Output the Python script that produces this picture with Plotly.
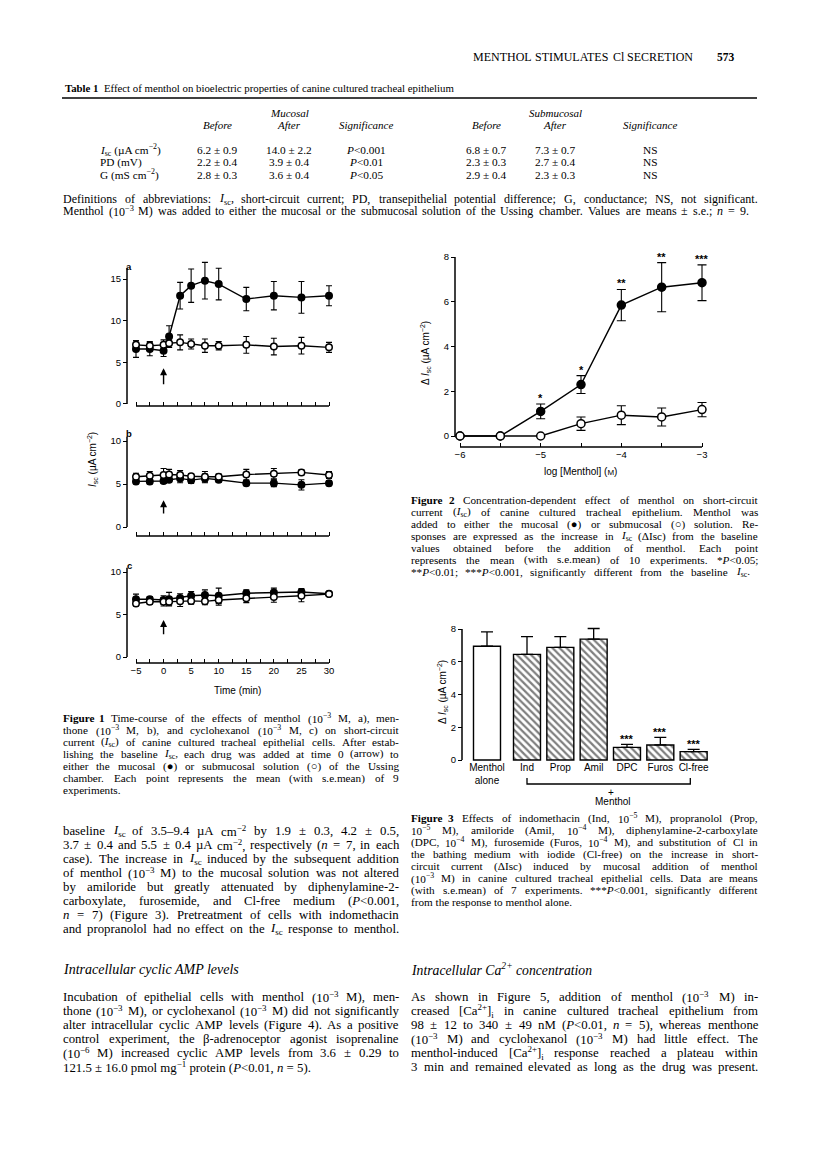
import re
import plotly.graph_objects as go

W, H = 816, 1166
SERIF = "Liberation Serif"
SANS = "Liberation Sans"


def fx(px):
    return px / W


def fy(py):
    return 1 - py / H


# ---------------- data ----------------
# Figure 1: time course of Isc (uA cm-2), mucosal (filled) vs submucosal (open)
time_min = [-5, -2.5, 0, 1, 3, 5, 7.5, 10, 15, 20, 25, 30]

menthol_muc = [6.6, 6.6, 6.4, 8.1, 13.0, 14.2, 14.8, 14.4, 12.6, 13.0, 12.8, 13.0]
menthol_muc_se = [1.0, 0.8, 0.7, 1.3, 1.6, 2.0, 2.2, 1.9, 1.4, 1.7, 1.9, 1.2]
menthol_sub = [7.1, 7.0, 7.1, 7.3, 7.4, 7.2, 7.0, 7.0, 7.1, 6.9, 7.0, 6.8]
menthol_sub_se = [0.5, 0.5, 0.6, 0.5, 0.9, 0.6, 0.8, 0.5, 1.0, 1.0, 1.0, 0.6]

menthone_muc = [5.3, 5.3, 5.35, 5.5, 5.65, 5.45, 5.65, 5.5, 5.1, 5.1, 4.9, 5.1]
menthone_muc_se = [0.3, 0.3, 0.3, 0.3, 0.5, 0.4, 0.5, 0.3, 0.3, 0.4, 0.6, 0.3]
menthone_sub = [5.85, 5.95, 6.05, 6.1, 6.05, 5.9, 5.85, 5.85, 6.1, 6.2, 6.35, 6.05]
menthone_sub_se = [0.4, 0.5, 0.75, 0.6, 0.5, 0.3, 0.6, 0.3, 0.6, 0.6, 0.3, 0.4]

cyclo_muc = [6.8, 6.8, 6.7, 6.8, 6.95, 7.2, 7.3, 7.2, 7.5, 7.6, 7.65, 7.45]
cyclo_muc_se = [0.6, 0.3, 0.5, 0.8, 0.5, 0.5, 0.6, 0.9, 0.4, 0.5, 0.4, 0.2]
cyclo_sub = [6.3, 6.5, 6.5, 6.5, 6.55, 6.6, 6.55, 6.7, 6.9, 7.05, 7.2, 7.4]
cyclo_sub_se = [0.3, 0.3, 0.5, 0.4, 0.6, 0.4, 0.4, 0.6, 0.5, 0.6, 0.7, 0.2]

# Figure 2: concentration-response, delta Isc
log_menthol = [-6, -5.5, -5, -4.5, -4, -3.5, -3]
conc_muc = [0, 0, 1.1, 2.3, 5.85, 6.65, 6.85]
conc_muc_se = [0, 0, 0.33, 0.4, 0.7, 1.1, 0.8]
conc_sub = [0, 0, 0, 0.55, 0.93, 0.85, 1.18]
conc_sub_se = [0, 0, 0, 0.3, 0.42, 0.4, 0.32]
conc_stars = ["", "", "*", "*", "**", "**", "***"]

# Figure 3: inhibitors, delta Isc
bar_labels = ["Menthol<br>alone", "Ind", "Prop", "Amil", "DPC", "Furos", "Cl-free"]
bar_vals = [6.95, 6.45, 6.88, 7.38, 0.77, 0.92, 0.51]
bar_se = [0.88, 1.08, 0.65, 0.65, 0.19, 0.46, 0.14]
bar_stars = ["", "", "", "", "***", "***", "***"]

# Table 1
table_rows = ["<i>I</i><sub>sc</sub> (µA cm<sup>−2</sup>)", "PD (mV)", "G (mS cm<sup>−2</sup>)"]
muc_before = ["6.2 ± 0.9", "2.2 ± 0.4", "2.8 ± 0.3"]
muc_after = ["14.0 ± 2.2", "3.9 ± 0.4", "3.6 ± 0.4"]
muc_sig = ["<i>P</i>&lt;0.001", "<i>P</i>&lt;0.01", "<i>P</i>&lt;0.05"]
sub_before = ["6.8 ± 0.7", "2.3 ± 0.3", "2.9 ± 0.4"]
sub_after = ["7.3 ± 0.7", "2.7 ± 0.4", "2.3 ± 0.3"]
sub_sig = ["NS", "NS", "NS"]

fig = go.Figure()
shapes = []
ann = []

# Times advance widths (1/1000 em), Liberation Serif is metric compatible
TW = {" ": 250, "!": 333, "%": 833, "(": 333, ")": 333, "*": 500, "+": 564, ",": 250, "-": 333,
      ".": 250, "/": 278, ":": 278, ";": 278, "<": 564, "=": 564, ">": 564, "[": 333, "]": 333,
      "±": 564, "µ": 500, "β": 500, "Δ": 612, "–": 500, "−": 564, "●": 640, "○": 640}
TW.update({d: 500 for d in "0123456789"})
TW.update(dict(zip("ABCDEFGHIJKLMNOPQRSTUVWXYZ",
                   [722, 667, 667, 722, 611, 556, 722, 722, 333, 389, 722, 611, 889, 722, 722, 556,
                    722, 667, 556, 611, 722, 722, 944, 722, 722, 611])))
TW.update(dict(zip("abcdefghijklmnopqrstuvwxyz",
                   [444, 500, 444, 500, 444, 333, 500, 500, 278, 278, 500, 278, 778, 500, 500, 500,
                    500, 333, 389, 278, 500, 500, 722, 500, 500, 444])))


def text_width(s, size):
    w, scale = 0.0, 1.0
    for tok in re.findall(r"<[^>]+>|&[a-z]+;|.", s):
        if tok.startswith("<"):
            if tok in ("<sup>", "<sub>"):
                scale = 0.7
            elif tok in ("</sup>", "</sub>"):
                scale = 1.0
            continue
        ch = {"&lt;": "<", "&gt;": ">", "&amp;": "&"}.get(tok, tok)
        w += TW.get(ch, 500) * scale
    return w * size / 1000.0


def text(px, py, s, size=11, family=SERIF, xanchor="left", angle=0):
    ann.append(dict(x=fx(px), y=fy(py), xref="paper", yref="paper", text=s,
                    showarrow=False, xanchor=xanchor, yanchor="middle", borderpad=0,
                    textangle=angle, font=dict(family=family, size=size, color="black")))


def para(lines, x0, x1, y0, dy, size, last_end=None):
    # justified block: every line spread to x1, last line to last_end (or natural)
    for k, line in enumerate(lines):
        py = y0 + dy * k
        target = last_end if k == len(lines) - 1 else x1
        words = line.split(" ")
        if target is None or len(words) < 2:
            text(x0, py, line, size)
            continue
        ws = [text_width(w, size) for w in words]
        gap = (target - x0 - sum(ws)) / (len(words) - 1)
        if gap < 0.15 * size:
            text(x0, py, line, size)
            continue
        xc = x0
        for w, wd in zip(words, ws):
            text(xc, py, w, size)
            xc += wd + gap


def series(xs, ys, es, xa, ya, filled, msize, cap):
    fig.add_trace(go.Scatter(
        x=xs, y=ys, xaxis=xa, yaxis=ya, mode="lines+markers", cliponaxis=False,
        line=dict(color="black", width=1.4),
        marker=dict(size=msize, color="black" if filled else "white",
                    line=dict(color="black", width=1.5)),
        error_y=dict(type="data", array=es, color="black", thickness=1.1, width=cap),
        showlegend=False, hoverinfo="skip"))


# ---------------- Figure 1 ----------------
x_ppu = 193 / 35.0          # px per minute
x_left, x_right = 118, 340
panels = [
    dict(lab="a", muc=menthol_muc, muc_se=menthol_muc_se, sub=menthol_sub, sub_se=menthol_sub_se,
         y0=404, ppu=8.33, top=16.3, xline=406, yt=[0, 5, 10, 15], arrow=(4.3, 2.2), labpy=267),
    dict(lab="b", muc=menthone_muc, muc_se=menthone_muc_se, sub=menthone_sub, sub_se=menthone_sub_se,
         y0=527, ppu=8.6, top=10.5, xline=536, yt=[0, 5, 10], arrow=(3.1, 1.4), labpy=433),
    dict(lab="c", muc=cyclo_muc, muc_se=cyclo_muc_se, sub=cyclo_sub, sub_se=cyclo_sub_se,
         y0=657, ppu=8.5, top=10.5, xline=663, yt=[0, 5, 10], arrow=(4.35, 2.5), labpy=565),
]
tick_t = [-5 + 2.5 * k for k in range(15)]
lay = {}
for i, p in enumerate(panels):
    n = i + 1
    xs = "" if n == 1 else str(n)
    xa, ya = "x" + xs, "y" + xs
    series(time_min, p["muc"], p["muc_se"], xa, ya, True, 6.5, 3)
    series(time_min, p["sub"], p["sub_se"], xa, ya, False, 6.5, 3)
    bot_px = p["y0"] + 10
    top_px = p["y0"] - (p["top"] + 2.5) * p["ppu"]
    lay["xaxis" + xs] = dict(
        domain=[fx(x_left), fx(x_right)],
        range=[-5 - (136 - x_left) / x_ppu, 30 + (x_right - 329) / x_ppu],
        anchor="free", position=fy(p["xline"]), showgrid=False, zeroline=False, showline=False,
        tickvals=tick_t, ticktext=[("−" + str(-int(t)) if t < 0 else str(int(t))) if t % 5 == 0 else "" for t in tick_t],
        showticklabels=(n == 3), ticks="inside", ticklen=4, tickwidth=1.2, tickcolor="black",
        tickfont=dict(family=SANS, size=9.5, color="black"))
    lay["yaxis" + xs] = dict(
        domain=[fy(bot_px), fy(top_px)],
        range=[-10 / p["ppu"], p["top"] + 2.5],
        anchor="free", position=fx(127), showgrid=False, zeroline=False, showline=False,
        tickvals=p["yt"], ticks="outside", ticklen=4, tickwidth=1.2, tickcolor="black",
        tickfont=dict(family=SANS, size=9.5, color="black"))
    shapes.append(dict(type="line", xref="paper", yref=ya, x0=fx(127), x1=fx(127), y0=0, y1=p["top"],
                       line=dict(color="black", width=1.5)))
    shapes.append(dict(type="line", xref=xa, yref="paper", x0=-5, x1=30, y0=fy(p["xline"]), y1=fy(p["xline"]),
                       line=dict(color="black", width=1.5)))
    ann.append(dict(x=0, y=p["arrow"][0], ax=0, ay=p["arrow"][1], xref=xa, yref=ya, axref=xa, ayref=ya,
                    showarrow=True, arrowhead=2, arrowsize=1, arrowwidth=1.4, arrowcolor="black", text=""))
    text(129, p["labpy"], "<b>" + p["lab"] + "</b>", size=9.5, family=SANS, xanchor="center")

text(92, 460, "<i>I</i><sub>sc</sub> (µA cm<sup>−2</sup>)", size=10, family=SANS, xanchor="center", angle=-90)
text(237, 691, "Time (min)", size=10, family=SANS, xanchor="center")

# ---------------- Figure 2 ----------------
series(log_menthol, conc_muc, conc_muc_se, "x4", "y4", True, 8, 4.5)
series(log_menthol, conc_sub, conc_sub_se, "x4", "y4", False, 8, 4.5)
f2_xppu, f2_yppu = 80.67, 22.375
lay["xaxis4"] = dict(
    domain=[fx(440), fx(725)], range=[-6 - 20 / f2_xppu, -3 + 23 / f2_xppu],
    anchor="free", position=fy(447), showgrid=False, zeroline=False, showline=False,
    tickvals=log_menthol, ticktext=["−6", "", "−5", "", "−4", "", "−3"],
    ticks="inside", ticklen=4, tickwidth=1.2, tickcolor="black",
    tickfont=dict(family=SANS, size=9.5, color="black"))
lay["yaxis4"] = dict(
    domain=[fy(450), fy(235)], range=[-14 / f2_yppu, (436 - 235) / f2_yppu],
    anchor="free", position=fx(455), showgrid=False, zeroline=False, showline=False,
    tickvals=[0, 2, 4, 6, 8], ticks="outside", ticklen=4, tickwidth=1.2, tickcolor="black",
    tickfont=dict(family=SANS, size=9.5, color="black"))
shapes.append(dict(type="line", xref="paper", yref="y4", x0=fx(455), x1=fx(455), y0=0, y1=8,
                   line=dict(color="black", width=1.5)))
shapes.append(dict(type="line", xref="x4", yref="paper", x0=-6, x1=-3, y0=fy(447), y1=fy(447),
                   line=dict(color="black", width=1.5)))
for xv, yv, ev, st in zip(log_menthol, conc_muc, conc_muc_se, conc_stars):
    if st:
        ann.append(dict(x=xv, y=yv + ev, xref="x4", yref="y4", text="<b>" + st + "</b>", showarrow=False,
                        yanchor="bottom", yshift=-2, font=dict(family=SANS, size=11, color="black")))
text(425, 353, "Δ <i>I</i><sub>sc</sub> (µA cm<sup>−2</sup>)", size=10, family=SANS, xanchor="center", angle=-90)
text(580, 471, "log [Menthol] (<span style='font-size:8px'>M</span>)", size=10, family=SANS, xanchor="center")

# ---------------- Figure 3 ----------------
bar_x = [i + (0.2 if i > 0 else 0) for i in range(len(bar_vals))]
fig.add_trace(go.Bar(
    x=bar_x, y=bar_vals, xaxis="x5", yaxis="y5", width=0.81,
    marker=dict(color="white", line=dict(color="black", width=1.4),
                pattern=dict(shape=[""] + ["\\"] * (len(bar_vals) - 1), fgcolor="black",
                             bgcolor="white", size=5, solidity=0.45)),
    error_y=dict(type="data", symmetric=False, array=bar_se, arrayminus=[0] * len(bar_se),
                 color="black", thickness=1.3, width=6),
    showlegend=False, hoverinfo="skip"))
f3_xppu, f3_yppu = 33.33, 16.375
lay["xaxis5"] = dict(
    domain=[fx(455), fx(720)], range=[-(487 - 455) / f3_xppu, (720 - 487) / f3_xppu],
    anchor="free", position=fy(760), showgrid=False, zeroline=False, showline=False,
    tickvals=bar_x, ticktext=bar_labels, ticks="",
    tickfont=dict(family=SANS, size=10, color="black"))
lay["yaxis5"] = dict(
    domain=[fy(770), fy(600)], range=[-10 / f3_yppu, (760 - 600) / f3_yppu],
    anchor="free", position=fx(462), showgrid=False, zeroline=False, showline=False,
    tickvals=[0, 2, 4, 6, 8], ticks="outside", ticklen=4, tickwidth=1.2, tickcolor="black",
    tickfont=dict(family=SANS, size=9.5, color="black"))
shapes.append(dict(type="line", xref="paper", yref="y5", x0=fx(462), x1=fx(462), y0=0, y1=8,
                   line=dict(color="black", width=1.5)))
for xv, yv, ev, st in zip(bar_x, bar_vals, bar_se, bar_stars):
    if st:
        ann.append(dict(x=xv, y=yv + ev, xref="x5", yref="y5", text="<b>" + st + "</b>", showarrow=False,
                        yanchor="bottom", yshift=-3, font=dict(family=SANS, size=11, color="black")))
shapes.append(dict(type="path", xref="x5", yref="paper",
                   path="M %g,%g L %g,%g L %g,%g L %g,%g" % (bar_x[1], fy(778), bar_x[1], fy(784),
                                                              bar_x[-1] - 0.1, fy(784), bar_x[-1] - 0.1, fy(778)),
                   line=dict(color="black", width=1.3)))
text(442, 692, "Δ <i>I</i><sub>sc</sub> (µA cm<sup>−2</sup>)", size=10, family=SANS, xanchor="center", angle=-90)
text(611, 792, "+", size=10, family=SANS, xanchor="center")
text(613, 801, "Menthol", size=10, family=SANS, xanchor="center")

# ---------------- page text ----------------
para(["MENTHOL STIMULATES Cl SECRETION"], 472, 692, 57, 12, 12, last_end=692)
text(716, 57, "<b>573</b>", size=11.5)

text(64, 88, "<b>Table 1</b>  Effect of menthol on bioelectric properties of canine cultured tracheal epithelium", size=10.8)
shapes.append(dict(type="line", xref="paper", yref="paper", x0=fx(62), x1=fx(757), y0=fy(98), y1=fy(98),
                   line=dict(color="black", width=1.6)))
col_x = [217, 289, 366, 486, 555, 650]
text(col_x[1], 113, "<i>Mucosal</i>", size=11, xanchor="center")
text(col_x[4], 113, "<i>Submucosal</i>", size=11, xanchor="center")
for cx, h in zip(col_x, ["Before", "After", "Significance", "Before", "After", "Significance"]):
    text(cx, 125, "<i>" + h + "</i>", size=11, xanchor="center")
for r in range(3):
    py = 150 + 12.3 * r
    text(99, py, table_rows[r], size=11.3)
    for cx, col in zip(col_x, [muc_before, muc_after, muc_sig, sub_before, sub_after, sub_sig]):
        text(cx, py, col[r], size=11.3, xanchor="center")

defs = [
    "Definitions of abbreviations: <i>I</i><sub>sc</sub>, short-circuit current; PD, transepithelial potential difference; G, conductance; NS, not significant.",
    "Menthol (10<sup>−3</sup> M) was added to either the mucosal or the submucosal solution of the Ussing chamber. Values are means ± s.e.; <i>n</i> = 9.",
]
para(defs, 62, 757, 199, 12, 12, last_end=748)

cap1 = [
    "<b>Figure</b> <b>1</b> Time-course of the effects of menthol (10<sup>−3</sup> M, a), men-",
    "thone (10<sup>−3</sup> M, b), and cyclohexanol (10<sup>−3</sup> M, c) on short-circuit",
    "current (<i>I</i><sub>sc</sub>) of canine cultured tracheal epithelial cells. After estab-",
    "lishing the baseline <i>I</i><sub>sc</sub>, each drug was added at time 0 (arrow) to",
    "either the mucosal (●) or submucosal solution (○) of the Ussing",
    "chamber. Each point represents the mean (with s.e.mean) of 9",
    "experiments.",
]
para(cap1, 62, 398, 718, 12, 11.2)

cap2 = [
    "<b>Figure</b> <b>2</b> Concentration-dependent effect of menthol on short-circuit",
    "current (<i>I</i><sub>sc</sub>) of canine cultured tracheal epithelium. Menthol was",
    "added to either the mucosal (●) or submucosal (○) solution. Re-",
    "sponses are expressed as the increase in <i>I</i><sub>sc</sub> (ΔIsc) from the baseline",
    "values obtained before the addition of menthol. Each point",
    "represents the mean (with s.e.mean) of 10 experiments. *<i>P</i>&lt;0.05;",
    "**<i>P</i>&lt;0.01; ***<i>P</i>&lt;0.001, significantly different from the baseline <i>I</i><sub>sc</sub>.",
]
para(cap2, 410, 757, 500, 12, 11.2, last_end=748)

cap3 = [
    "<b>Figure</b> <b>3</b> Effects of indomethacin (Ind, 10<sup>−5</sup> M), propranolol (Prop,",
    "10<sup>−5</sup> M), amiloride (Amil, 10<sup>−4</sup> M), diphenylamine-2-carboxylate",
    "(DPC, 10<sup>−4</sup> M), furosemide (Furos, 10<sup>−4</sup> M), and substitution of Cl in",
    "the bathing medium with iodide (Cl-free) on the increase in short-",
    "circuit current (ΔIsc) induced by mucosal addition of menthol",
    "(10<sup>−3</sup> M) in canine cultured tracheal epithelial cells. Data are means",
    "(with s.e.mean) of 7 experiments. ***<i>P</i>&lt;0.001, significantly different",
    "from the response to menthol alone.",
]
para(cap3, 410, 757, 818, 12, 11.2)

body_left = [
    "baseline <i>I</i><sub>sc</sub> of 3.5–9.4 µA cm<sup>−2</sup> by 1.9 ± 0.3, 4.2 ± 0.5,",
    "3.7 ± 0.4 and 5.5 ± 0.4 µA cm<sup>−2</sup>, respectively (<i>n</i> = 7, in each",
    "case). The increase in <i>I</i><sub>sc</sub> induced by the subsequent addition",
    "of menthol (10<sup>−3</sup> M) to the mucosal solution was not altered",
    "by amiloride but greatly attenuated by diphenylamine-2-",
    "carboxylate, furosemide, and Cl-free medium (<i>P</i>&lt;0.001,",
    "<i>n</i> = 7) (Figure 3). Pretreatment of cells with indomethacin",
    "and propranolol had no effect on the <i>I</i><sub>sc</sub> response to menthol.",
]
para(body_left, 62, 398, 831, 14, 12.8, last_end=398)

text(62, 969, "<i>Intracellular cyclic AMP levels</i>", size=14)
body_left2 = [
    "Incubation of epithelial cells with menthol (10<sup>−3</sup> M), men-",
    "thone (10<sup>−3</sup> M), or cyclohexanol (10<sup>−3</sup> M) did not significantly",
    "alter intracellular cyclic AMP levels (Figure 4). As a positive",
    "control experiment, the β-adrenoceptor agonist isoprenaline",
    "(10<sup>−6</sup> M) increased cyclic AMP levels from 3.6 ± 0.29 to",
    "121.5 ± 16.0 pmol mg<sup>−1</sup> protein (<i>P</i>&lt;0.01, <i>n</i> = 5).",
]
para(body_left2, 62, 398, 997, 14, 12.8)

text(410, 969, "<i>Intracellular Ca<sup>2+</sup> concentration</i>", size=13.7)
body_right = [
    "As shown in Figure 5, addition of menthol (10<sup>−3</sup> M) in-",
    "creased [Ca<sup>2+</sup>]<sub>i</sub> in canine cultured tracheal epithelium from",
    "98 ± 12 to 340 ± 49 nM (<i>P</i>&lt;0.01, <i>n</i> = 5), whereas menthone",
    "(10<sup>−3</sup> M) and cyclohexanol (10<sup>−3</sup> M) had little effect. The",
    "menthol-induced [Ca<sup>2+</sup>]<sub>i</sub> response reached a plateau within",
    "3 min and remained elevated as long as the drug was present.",
]
para(body_right, 410, 757, 997, 14, 12.8, last_end=757)

fig.update_layout(
    width=W, height=H, margin=dict(l=0, r=0, t=0, b=0),
    paper_bgcolor="white", plot_bgcolor="rgba(0,0,0,0)",
    showlegend=False, shapes=shapes, annotations=ann, **lay)

fig.write_html("out.html", config={"displayModeBar": False},
               post_script="document.body.style.margin='0';")
